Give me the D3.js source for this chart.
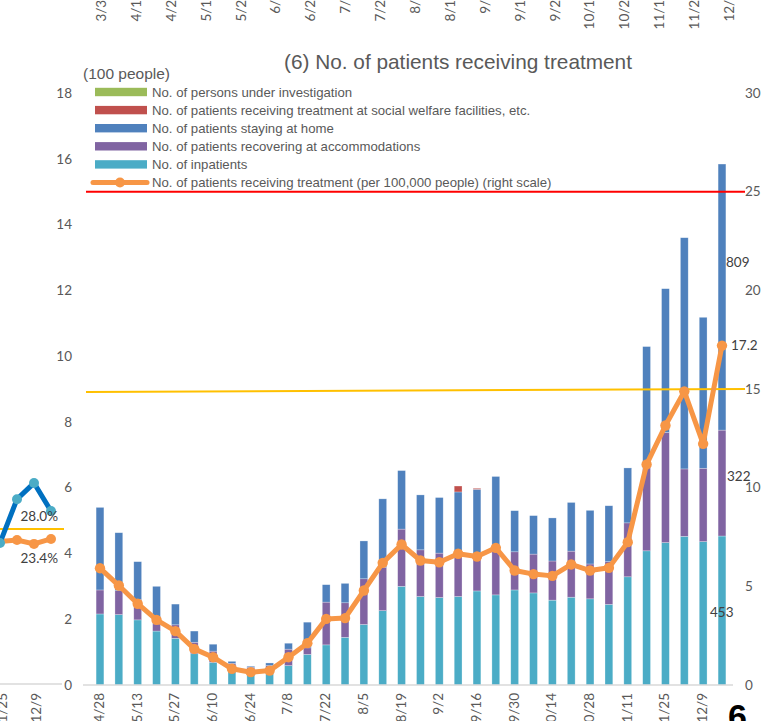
<!DOCTYPE html>
<html>
<head>
<meta charset="utf-8">
<script src="https://cdn.jsdelivr.net/npm/d3@7"></script>
<style>
  body { margin: 0; background: #fff; }
  svg { display: block; }
</style>
</head>
<body>
<svg id="chart" width="770" height="721"></svg>
<script>
// weekly dates (bottom axis), labels shown every other week
const dates = ['4/28','5/6','5/13','5/20','5/27','6/3','6/10','6/17','6/24','7/1','7/8','7/15','7/22','7/29',
  '8/5','8/12','8/19','8/26','9/2','9/9','9/16','9/23','9/30','10/7','10/14','10/21','10/28','11/4',
  '11/11','11/18','11/25','12/2','12/9','12/16']

// values in hundreds of people
const inpatients = [2.16,2.14,1.98,1.64,1.42,0.95,0.69,0.50,0.35,0.39,0.59,0.93,1.22,1.45,1.84,2.26,3.00,
  2.69,2.66,2.69,2.86,2.74,2.89,2.80,2.58,2.67,2.62,2.45,3.29,4.08,4.33,4.52,4.36,4.53]
const accommodations = [0.73,0.73,0.62,0.22,0.41,0.35,0.34,0.16,0.19,0.20,0.50,0.20,1.30,1.05,1.39,1.32,1.74,
  1.42,1.35,1.30,1.05,1.45,1.16,1.18,1.19,1.40,1.06,1.30,1.64,2.56,3.35,2.05,2.23,3.22]
const atHome = [2.51,1.76,1.15,1.14,0.63,0.34,0.21,0.06,0.03,0.08,0.18,0.78,0.53,0.59,1.15,2.08,1.78,
  1.67,1.69,1.88,2.04,2.15,1.25,1.17,1.31,1.48,1.63,1.70,1.67,3.65,4.37,7.03,4.59,8.09]
const welfare = [0,0,0,0,0,0,0,0,0,0,0,0,0,0,0,0,0,0,0,0.18,0.03,0,0,0,0,0,0,0,0,0,0,0,0,0]
const investigation = dates.map(() => 0)

// per 100,000 people (right scale)
const perCapita = [5.92,5.04,4.12,3.30,2.73,1.83,1.41,0.82,0.65,0.73,1.41,2.12,3.35,3.39,4.79,6.19,7.12,
  6.31,6.22,6.65,6.51,6.95,5.80,5.62,5.53,6.11,5.80,5.94,7.24,11.18,13.15,14.88,12.22,17.2]

const leftTicks = [0,2,4,6,8,10,12,14,16,18]
const rightTicks = [0,5,10,15,20,25,30]
const redLevel = 25
const yellowLevel = 15

const legendItems = [
  { key: 'investigation', label: 'No. of persons under investigation', color: '#9BBB59' },
  { key: 'welfare', label: 'No. of patients receiving treatment at social welfare facilities, etc.', color: '#C0504D' },
  { key: 'atHome', label: 'No. of patients staying at home', color: '#4F81BD' },
  { key: 'accommodations', label: 'No. of patients recovering at accommodations', color: '#8064A2' },
  { key: 'inpatients', label: 'No. of inpatients', color: '#4BACC6' }
]
const lineLabel = 'No. of patients receiving treatment (per 100,000 people) (right scale)'

// fragments of the neighbouring charts on the page
const topDates = ['3/31','4/14','4/28','5/12','5/26','6/9','6/23','7/7','7/21','8/4','8/18','9/1','9/15',
  '9/29','10/13','10/27','11/10','11/24','12/8']
const sideDates = ['11/25','12/2','12/9','12/16']
const sideBlue = [4.32,5.65,6.14,5.29]
const sideOrange = [4.36,4.41,4.29,4.44]
const sideLevel = 4.74

const svg = d3.select('#chart')
const grey = '#595959'
const tickFont = 'Lato, "Open Sans", sans-serif'
const textFont = '"Liberation Sans", Arial, sans-serif'

let x = d3.scalePoint().domain(dates).range([100, 722])
let yL = d3.scaleLinear().domain([0, 18]).range([685, 93])
let yR = d3.scaleLinear().domain([0, 30]).range([685, 93])

// ---- stacked bars
let rows = dates.map((d, i) => ({
  date: d,
  inpatients: inpatients[i],
  accommodations: accommodations[i],
  atHome: atHome[i],
  welfare: welfare[i],
  investigation: investigation[i]
}))
let stackKeys = ['inpatients', 'accommodations', 'atHome', 'welfare', 'investigation']
let series = d3.stack().keys(stackKeys)(rows)
let colorOf = {}
legendItems.forEach(d => { colorOf[d.key] = d.color })

let barW = 7.8
svg.append('g').selectAll('g').data(series).join('g')
  .attr('fill', d => colorOf[d.key])
  .selectAll('rect').data(d => d).join('rect')
  .attr('x', d => x(d.data.date) - barW / 2)
  .attr('y', d => yL(d[1]))
  .attr('width', barW)
  .attr('height', d => Math.max(0, yL(d[0]) - yL(d[1])))
  .style('stroke', '#ffffff')
  .style('stroke-opacity', 0.45)
  .style('stroke-width', 0.6)

// baseline
svg.append('line')
  .attr('x1', 83).attr('x2', 733)
  .attr('y1', yL(0)).attr('y2', yL(0))
  .style('stroke', '#d9d9d9').style('stroke-width', 1.5)

// reference lines
svg.append('line')
  .attr('x1', 86).attr('x2', 745)
  .attr('y1', yR(redLevel)).attr('y2', yR(redLevel))
  .style('stroke', '#FF0000').style('stroke-width', 2)
svg.append('line')
  .attr('x1', 86).attr('x2', 745)
  .attr('y1', yR(yellowLevel - 0.15)).attr('y2', yR(yellowLevel))
  .style('stroke', '#FFC000').style('stroke-width', 2)

// ---- orange line
let line = d3.line().x((d, i) => x(dates[i])).y(d => yR(d))
svg.append('path')
  .datum(perCapita)
  .attr('d', line)
  .style('fill', 'none')
  .style('stroke', '#F79646')
  .style('stroke-width', 5)
  .style('stroke-linejoin', 'round')
svg.append('g').selectAll('circle').data(perCapita).join('circle')
  .attr('cx', (d, i) => x(dates[i]))
  .attr('cy', d => yR(d))
  .attr('r', 5.2)
  .style('fill', '#F79646')

// ---- axes labels
svg.append('g').selectAll('text').data(leftTicks).join('text')
  .attr('x', 72).attr('y', d => yL(d)).attr('dy', '0.35em')
  .attr('text-anchor', 'end')
  .style('font-family', tickFont).style('font-size', '13.5px').style('fill', grey)
  .text(d => d)

svg.append('g').selectAll('text').data(rightTicks).join('text')
  .attr('x', 745).attr('y', d => yR(d)).attr('dy', '0.35em')
  .style('font-family', tickFont).style('font-size', '13.5px').style('fill', grey)
  .text(d => d)

svg.append('g').selectAll('text').data(dates.filter((d, i) => i % 2 == 0)).join('text')
  .attr('transform', d => `translate(${x(d) + 4},693) rotate(-90)`)
  .attr('text-anchor', 'end')
  .style('font-family', tickFont).style('font-size', '13.5px').style('fill', grey)
  .text(d => d)

// ---- data labels
let last = dates.length - 1
let dataLabel = (txt, xx, yy) => svg.append('text')
  .attr('x', xx).attr('y', yy).attr('dy', '0.35em')
  .style('font-family', tickFont).style('font-size', '13.5px').style('fill', '#404040')
  .text(txt)
let lastTop = inpatients[last] + accommodations[last] + atHome[last]
dataLabel(Math.round(atHome[last] * 100), x(dates[last]) + 4, yL(lastTop) + 98)
dataLabel(Math.round(accommodations[last] * 100), x(dates[last]) + 5, yL(inpatients[last] + accommodations[last]) + 46)
dataLabel(Math.round(inpatients[last] * 100), x(dates[last]) - 12, yL(inpatients[last]) + 76)
dataLabel(perCapita[last].toFixed(1), x(dates[last]) + 9, yR(perCapita[last]))

// ---- title & legend
svg.append('text')
  .attr('x', 458).attr('y', 69)
  .attr('text-anchor', 'middle')
  .style('font-family', textFont).style('font-size', '20.8px').style('fill', grey)
  .text('(6) No. of patients receiving treatment')

svg.append('text')
  .attr('x', 83).attr('y', 79)
  .style('font-family', textFont).style('font-size', '15.5px').style('fill', grey)
  .text('(100 people)')

let legend = svg.append('g').attr('transform', 'translate(95,92)')
legend.selectAll('rect').data(legendItems).join('rect')
  .attr('x', 0).attr('y', (d, i) => i * 18.1 - 4.2)
  .attr('width', 52).attr('height', 8.4)
  .style('fill', d => d.color)
legend.selectAll('text').data(legendItems).join('text')
  .attr('x', 57).attr('y', (d, i) => i * 18.1).attr('dy', '0.35em')
  .style('font-family', textFont).style('font-size', '13.2px').style('fill', grey)
  .text(d => d.label)
let ly = 5 * 18.1
legend.append('line')
  .attr('x1', -2).attr('x2', 52).attr('y1', ly).attr('y2', ly)
  .style('stroke', '#F79646').style('stroke-width', 5).style('stroke-linecap', 'round')
legend.append('circle').attr('cx', 25).attr('cy', ly).attr('r', 5).style('fill', '#F79646')
legend.append('text')
  .attr('x', 57).attr('y', ly).attr('dy', '0.35em')
  .style('font-family', textFont).style('font-size', '13.2px').style('fill', grey)
  .text(lineLabel)

// ---- fragment of the chart above (labels cut by the page edge)
let xTop = d3.scalePoint().domain(topDates).range([102, 730])
svg.append('g').selectAll('text').data(topDates).join('text')
  .attr('transform', d => `translate(${xTop(d) + 4},-8) rotate(-90)`)
  .attr('text-anchor', 'end')
  .style('font-family', tickFont).style('font-size', '13.5px').style('fill', grey)
  .text(d => d)

// ---- fragment of the chart to the left
let xSide = d3.scalePoint().domain(sideDates).range([0, 51])
svg.append('line')
  .attr('x1', 0).attr('x2', 62).attr('y1', yL(0) - 1).attr('y2', yL(0) - 1)
  .style('stroke', '#d9d9d9').style('stroke-width', 1.5)
svg.append('line')
  .attr('x1', 0).attr('x2', 64).attr('y1', yL(sideLevel)).attr('y2', yL(sideLevel))
  .style('stroke', '#FFC000').style('stroke-width', 2)
let sideLine = d3.line().x((d, i) => xSide(sideDates[i])).y(d => yL(d))
svg.append('path').datum(sideOrange).attr('d', sideLine)
  .style('fill', 'none').style('stroke', '#F79646').style('stroke-width', 5)
svg.append('g').selectAll('circle').data(sideOrange).join('circle')
  .attr('cx', (d, i) => xSide(sideDates[i])).attr('cy', d => yL(d)).attr('r', 5)
  .style('fill', '#F79646')
svg.append('path').datum(sideBlue).attr('d', sideLine)
  .style('fill', 'none').style('stroke', '#0070C0').style('stroke-width', 5)
svg.append('g').selectAll('circle').data(sideBlue).join('circle')
  .attr('cx', (d, i) => xSide(sideDates[i])).attr('cy', d => yL(d)).attr('r', 5)
  .style('fill', '#4BACC6')
svg.append('text').attr('x', 58).attr('y', yL(sideLevel) - 8).attr('text-anchor', 'end')
  .style('font-family', tickFont).style('font-size', '13.5px').style('fill', '#404040').text('28.0%')
svg.append('text').attr('x', 58).attr('y', yL(sideOrange[3]) + 24).attr('text-anchor', 'end')
  .style('font-family', tickFont).style('font-size', '13.5px').style('fill', '#404040').text('23.4%')
svg.append('g').selectAll('text').data(['11/25', '12/9']).join('text')
  .attr('transform', d => `translate(${xSide(d) + 7},693) rotate(-90)`)
  .attr('text-anchor', 'end')
  .style('font-family', tickFont).style('font-size', '13.5px').style('fill', grey)
  .text(d => d)

// page number
svg.append('text')
  .attr('x', 728).attr('y', 728)
  .style('font-family', textFont).style('font-size', '34px')
  .style('font-weight', 'bold').style('fill', '#000')
  .text('6')
</script>
</body>
</html>
